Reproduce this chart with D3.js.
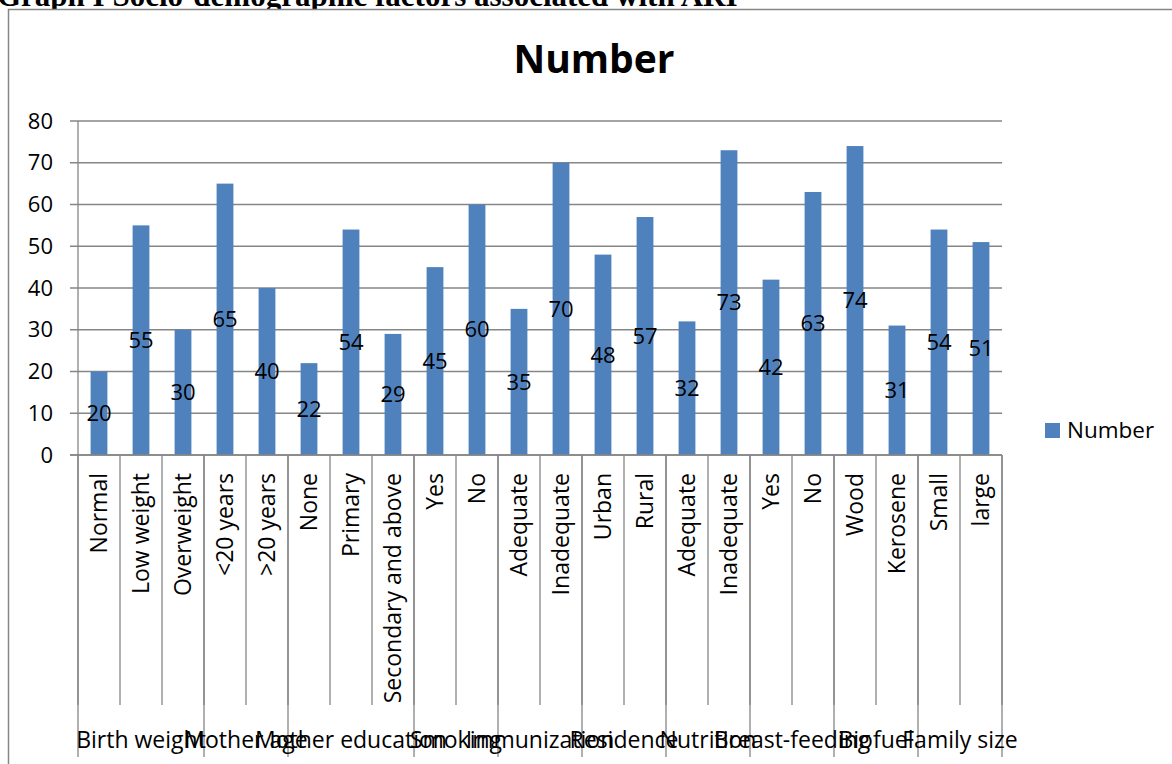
<!DOCTYPE html>
<html>
<head>
<meta charset="utf-8">
<script src="https://cdn.jsdelivr.net/npm/d3@7"></script>
<style>
  body { margin: 0; background: #fff; }
  svg text { font-family: "Open Sans", "DejaVu Sans", sans-serif; fill: #000; }
</style>
</head>
<body>
<svg id="chart" width="1172" height="764"></svg>
<script>
// Datos del gráfico
const categories = ["Normal", "Low weight", "Overweight", "<20 years", ">20 years",
  "None", "Primary", "Secondary and above", "Yes", "No", "Adequate", "Inadequate",
  "Urban", "Rural", "Adequate", "Inadequate", "Yes", "No", "Wood", "Kerosene", "Small", "large"];
const values = [20, 55, 30, 65, 40, 22, 54, 29, 45, 60, 35, 70, 48, 57, 32, 73, 42, 63, 74, 31, 54, 51];
const groupNames = ["Birth weight", "Mother age", "Mother education", "Smoking", "Immunization",
  "Residence", "Nutrition", "Breast-feeding", "Biofuel", "Family size"];
const groupSizes = [3, 2, 3, 2, 2, 2, 2, 2, 2, 2];
const yTicks = [0, 10, 20, 30, 40, 50, 60, 70, 80];

const barColor = "#4f81bd";
const lineColor = "#868686";
const fontSize = 22;     // ticks y etiquetas de datos
const catFontSize = 23;  // categorías y grupos

const svg = d3.select("#chart");

// Texto del documento, recortado arriba
svg.append("text")
  .attr("x", -3)
  .attr("y", 6)
  .style("font-family", "'Liberation Serif', 'Times New Roman', serif")
  .style("font-weight", "bold")
  .style("font-size", "31px")
  .text("Graph I Socio-demographic factors associated with ARI");

// Fondo y borde exterior del gráfico
svg.append("rect")
  .attr("x", 8.5).attr("y", 9.5)
  .attr("width", 1200).attr("height", 800)
  .attr("fill", "#fff")
  .attr("stroke", lineColor)
  .attr("stroke-width", 1.5);

// Escalas
const x = d3.scaleBand()
  .domain(d3.range(categories.length))
  .range([78, 1002]);

const y = d3.scaleLinear()
  .domain([0, 80])
  .range([455, 121]);

const step = x.step();
const barWidth = step / 2.5;  // ancho de hueco 150%
const edge = i => x.range()[0] + i * step;

// Título
svg.append("text")
  .attr("x", 594)
  .attr("y", 73)
  .attr("text-anchor", "middle")
  .style("font-weight", "bold")
  .style("font-size", "39px")
  .text("Number");

// Líneas de la cuadrícula
svg.append("g")
  .selectAll("line")
  .data(yTicks)
  .enter().append("line")
  .attr("x1", 70)
  .attr("x2", 1002)
  .attr("y1", d => y(d))
  .attr("y2", d => y(d))
  .attr("stroke", lineColor)
  .attr("stroke-width", 1.3);

// Eje Y
svg.append("line")
  .attr("x1", 78).attr("x2", 78)
  .attr("y1", y(80)).attr("y2", y(0))
  .attr("stroke", lineColor)
  .attr("stroke-width", 1.3);

svg.append("g")
  .selectAll("text")
  .data(yTicks)
  .enter().append("text")
  .attr("x", 53)
  .attr("y", d => y(d))
  .attr("dy", "0.35em")
  .attr("text-anchor", "end")
  .style("font-size", fontSize + "px")
  .text(d => d);

// Barras
svg.append("g")
  .selectAll("rect")
  .data(values)
  .enter().append("rect")
  .attr("x", (d, i) => x(i) + (step - barWidth) / 2)
  .attr("width", barWidth)
  .attr("y", d => y(d))
  .attr("height", d => y(0) - y(d))
  .attr("fill", barColor);

// Etiquetas de datos (centro de la barra)
svg.append("g")
  .selectAll("text")
  .data(values)
  .enter().append("text")
  .attr("x", (d, i) => x(i) + step / 2)
  .attr("y", d => (y(d) + y(0)) / 2)
  .attr("dy", "0.35em")
  .attr("text-anchor", "middle")
  .style("font-size", fontSize + "px")
  .text(d => d);

// Separadores de categorías
svg.append("g")
  .selectAll("line")
  .data(d3.range(categories.length + 1))
  .enter().append("line")
  .attr("x1", i => edge(i))
  .attr("x2", i => edge(i))
  .attr("y1", y(0))
  .attr("y2", 705)
  .attr("stroke", lineColor)
  .attr("stroke-width", 1.3);

// Etiquetas de categorías (rotadas)
svg.append("g")
  .selectAll("text")
  .data(categories)
  .enter().append("text")
  .attr("transform", (d, i) => `translate(${x(i) + step / 2},473) rotate(-90)`)
  .attr("dy", "0.35em")
  .attr("text-anchor", "end")
  .style("font-size", catFontSize + "px")
  .text(d => d);

// Grupos
const groupStarts = groupSizes.map((s, i) => d3.sum(groupSizes.slice(0, i)));
const groupEdges = groupStarts.concat([categories.length]);

svg.append("g")
  .selectAll("line")
  .data(groupEdges)
  .enter().append("line")
  .attr("x1", i => edge(i))
  .attr("x2", i => edge(i))
  .attr("y1", y(0))
  .attr("y2", 757)
  .attr("stroke", lineColor)
  .attr("stroke-width", 1.3);

// Eje X
svg.append("line")
  .attr("x1", 70).attr("x2", 1002)
  .attr("y1", y(0)).attr("y2", y(0))
  .attr("stroke", lineColor)
  .attr("stroke-width", 1.3);

svg.append("g")
  .selectAll("text")
  .data(groupNames)
  .enter().append("text")
  .attr("x", (d, i) => edge(groupStarts[i]) + groupSizes[i] * step / 2)
  .attr("y", 740)
  .attr("dy", "0.35em")
  .attr("text-anchor", "middle")
  .style("font-size", catFontSize + "px")
  .text(d => d);

// Leyenda
const legend = svg.append("g").attr("transform", "translate(1045,423)");
legend.append("rect")
  .attr("width", 15).attr("height", 15)
  .attr("fill", barColor);
legend.append("text")
  .attr("x", 22)
  .attr("y", 7.5)
  .attr("dy", "0.35em")
  .style("font-size", "22.5px")
  .text("Number");
</script>
</body>
</html>
